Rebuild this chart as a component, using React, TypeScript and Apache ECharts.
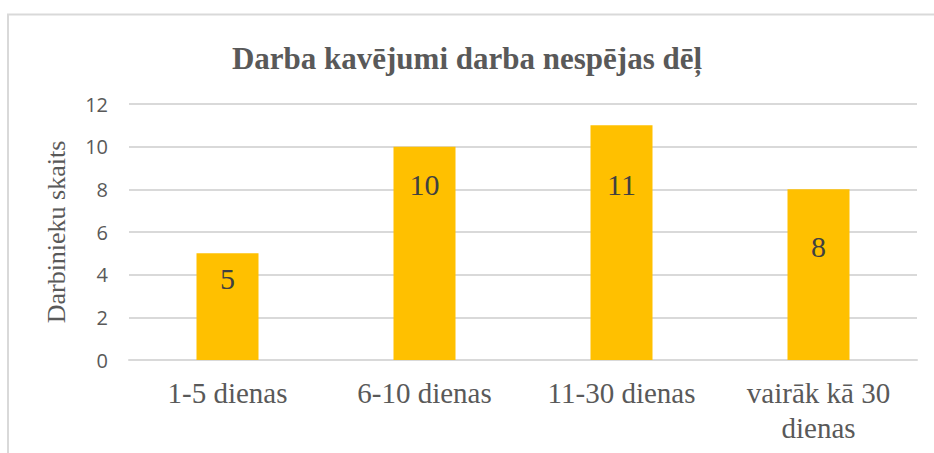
import React, { useEffect, useRef } from "react";
import * as echarts from "echarts";

const categories = ["1-5 dienas", "6-10 dienas", "11-30 dienas", "vairāk kā 30\ndienas"];
const values = [5, 10, 11, 8];
const labelDistances = [10, 23, 44, 42];
const yTicks = { min: 0, max: 12, interval: 2 };
const titleText = "Darba kavējumi darba nespējas dēļ";
const yName = "Darbinieku skaits";

const SERIF = "Liberation Serif";

export default function App() {
  const ref = useRef<HTMLDivElement>(null);
  useEffect(() => {
    if (!ref.current) return;
    const chart = echarts.init(ref.current, null, { renderer: "svg" });
    chart.setOption({
      animation: false,
      backgroundColor: "#ffffff",
      title: {
        text: titleText,
        left: "center",
        top: 38,
        textStyle: { fontFamily: SERIF, fontWeight: "bold", fontSize: 31, color: "#595959" },
      },
      graphic: [
        { type: "line", shape: { x1: 8, y1: 14, x2: 8, y2: 453 }, style: { stroke: "#d9d9d9", lineWidth: 2 } },
        { type: "line", shape: { x1: 7, y1: 14.5, x2: 934, y2: 14.5 }, style: { stroke: "#d9d9d9", lineWidth: 2 } },
      ],
      grid: { left: 129, right: 17, top: 104, bottom: 93 },
      xAxis: {
        type: "category",
        data: categories,
        axisTick: { show: false },
        axisLine: { show: true, lineStyle: { color: "#d9d9d9", width: 2 } },
        axisLabel: { interval: 0, margin: 15, fontFamily: SERIF, fontSize: 29, lineHeight: 35, color: "#595959" },
      },
      yAxis: {
        type: "value",
        min: yTicks.min,
        max: yTicks.max,
        interval: yTicks.interval,
        name: yName,
        nameLocation: "middle",
        nameGap: 60,
        nameTextStyle: { fontFamily: SERIF, fontSize: 26, color: "#595959" },
        axisLine: { show: false },
        axisTick: { show: false },
        axisLabel: { margin: 21, fontFamily: "Open Sans", fontSize: 20, color: "#595959" },
        splitLine: { lineStyle: { color: "#d9d9d9", width: 2 } },
      },
      series: [
        {
          type: "bar",
          barWidth: 62,
          data: values.map((v, i) => ({ value: v, label: { distance: labelDistances[i] } })),
          itemStyle: { color: "#FFC000" },
          label: { show: true, position: "insideTop", fontFamily: SERIF, fontSize: 30, color: "#404040" },
        },
      ],
    });
    return () => chart.dispose();
  }, []);
  return <div ref={ref} style={{ position: "fixed", left: 0, top: 0, width: 934, height: 453 }} />;
}
